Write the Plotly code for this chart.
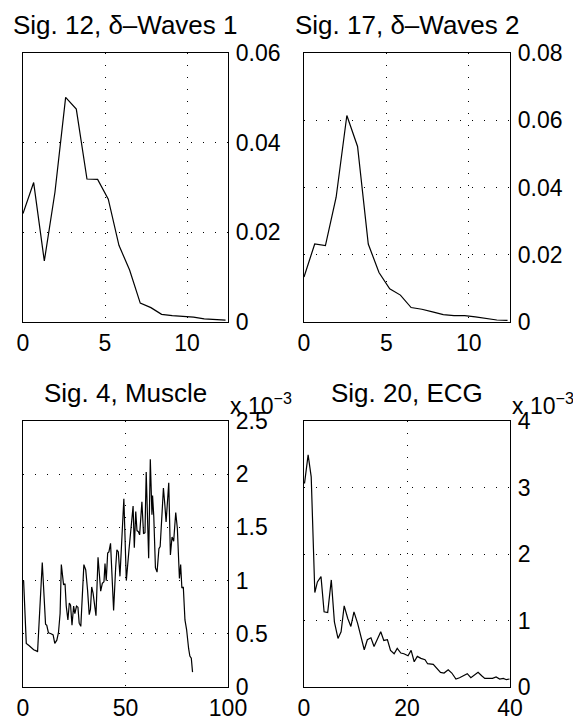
import plotly.graph_objects as go

W, H = 573, 719

# ---------- data ----------
# Sig. 12, delta-waves 1
f1 = [0.0, 0.65, 1.3, 1.95, 2.6, 3.25, 3.9, 4.55, 5.2, 5.85, 6.5, 7.15, 7.8,
      8.45, 9.1, 9.75, 10.4, 11.05, 11.7, 12.35]
p1 = [0.0242, 0.0311, 0.0136, 0.0290, 0.0501, 0.0475, 0.0319, 0.0318, 0.0274,
      0.0171, 0.0116, 0.0042, 0.0032, 0.0017, 0.0014, 0.0013, 0.0011, 0.0007,
      0.0005, 0.0004]

# Sig. 17, delta-waves 2
f2 = [0.0, 0.65, 1.3, 1.95, 2.6, 3.25, 3.9, 4.55, 5.2, 5.85, 6.5, 7.15, 7.8,
      8.45, 9.1, 9.75, 10.4, 11.05, 11.7, 12.35]
p2 = [0.0134, 0.0232, 0.0227, 0.0371, 0.0614, 0.0522, 0.0232, 0.0147, 0.0099,
      0.0080, 0.0043, 0.0038, 0.0030, 0.0022, 0.0019, 0.0019, 0.0015, 0.0010,
      0.0006, 0.0005]

# Sig. 4, muscle (values in units of 1e-3)
f3 = [0.3, 1.6, 2.9, 4.0, 5.2, 6.5, 7.1, 9.4, 11.0, 11.6, 12.4, 13.7, 14.7,
      15.5, 16.5, 17.3, 18.1, 18.7, 19.8, 20.5, 21.1, 21.9, 22.6, 23.2, 23.9,
      24.7, 25.3, 26.1, 26.8, 27.4, 28.2, 29.7, 30.6, 31.5, 32.3, 32.9, 33.5,
      34.2, 34.8, 35.6, 36.6, 37.9, 38.7, 39.5, 40.0, 40.6, 41.3, 41.9, 42.7,
      44.2, 45.2, 45.8, 46.5, 47.3, 49.2, 50.4, 51.7, 52.7, 53.7, 54.3, 55.0,
      55.6, 56.3, 56.9, 58.0, 58.8, 59.5, 60.1, 61.3, 62.1, 62.9, 63.2, 63.8,
      64.6, 65.4, 66.3, 66.9, 67.9, 68.5, 69.2, 69.8, 71.1, 71.9, 72.7, 73.5,
      74.5, 75.3, 76.3, 76.9, 77.5, 78.2, 79.0, 79.8, 80.8, 81.4, 82.1, 82.7]
p3 = [1.00, 0.41, 0.39, 0.37, 0.35, 0.34, 0.33, 1.17, 0.59, 0.58, 0.51, 0.50,
      0.49, 0.41, 0.44, 0.51, 0.69, 1.15, 0.96, 0.97, 0.76, 0.63, 0.79, 0.77,
      0.58, 0.76, 0.69, 0.76, 0.75, 0.60, 0.57, 1.15, 1.10, 0.91, 0.68, 0.73,
      0.94, 0.88, 0.79, 0.67, 1.22, 0.90, 0.975, 0.99, 1.16, 1.00, 1.26, 1.27,
      1.35, 0.72, 1.12, 1.29, 1.27, 1.04, 1.77, 1.00, 1.29, 1.51, 1.70, 1.31,
      1.65, 1.47, 1.46, 1.43, 1.74, 1.44, 1.45, 2.02, 1.21, 2.14, 1.62, 1.80,
      1.60, 1.12, 1.08, 1.30, 1.32, 1.66, 1.87, 1.71, 1.55, 1.92, 1.24, 1.41,
      1.37, 1.64, 1.49, 1.02, 1.15, 0.93, 0.94, 0.63, 0.54, 0.36, 0.29, 0.27,
      0.14]

# Sig. 20, ECG (values in units of 1e-3)
f4 = [0.1, 0.8, 1.4, 2.1, 2.6, 3.3, 3.9, 4.6, 5.3, 5.9, 6.6, 7.2, 7.8, 8.5,
      9.1, 9.7, 10.4, 11.0, 11.7, 12.3, 13.0, 13.6, 14.3, 14.9, 15.5, 16.2,
      16.8, 17.5, 18.1, 18.8, 19.4, 20.2, 20.8, 21.4, 22.0, 22.7, 23.5, 24.0,
      25.1, 25.8, 26.5, 27.2, 28.0, 28.7, 29.5, 30.2, 30.9, 31.7, 32.4, 33.0,
      33.8, 34.5, 35.1, 35.9, 36.6, 37.3, 38.0, 38.7, 39.3, 39.9]
p4 = [3.06, 3.49, 3.16, 1.42, 1.58, 1.66, 1.13, 1.12, 1.61, 0.98, 0.73, 0.83,
      1.22, 1.03, 0.91, 1.13, 0.96, 0.76, 0.56, 0.71, 0.74, 0.61, 0.72, 0.83,
      0.70, 0.71, 0.55, 0.50, 0.58, 0.51, 0.50, 0.47, 0.55, 0.38, 0.46, 0.43,
      0.41, 0.35, 0.34, 0.28, 0.22, 0.21, 0.26, 0.21, 0.12, 0.14, 0.17, 0.20,
      0.14, 0.18, 0.22, 0.17, 0.13, 0.13, 0.13, 0.15, 0.12, 0.13, 0.11, 0.12]

titles = ["Sig. 12, \u03b4\u2013Waves 1", "Sig. 17, \u03b4\u2013Waves 2",
          "Sig. 4, Muscle", "Sig. 20, ECG"]
x_ticks = [[0, 5, 10], [0, 5, 10], [0, 50, 100], [0, 20, 40]]
x_ranges = [[0, 12.5], [0, 12.5], [0, 100], [0, 40]]
y_ticks = [[0, 0.02, 0.04, 0.06], [0, 0.02, 0.04, 0.06, 0.08],
           [0, 0.5, 1, 1.5, 2, 2.5], [0, 1, 2, 3, 4]]
y_ticklabels = [["0", "0.02", "0.04", "0.06"], ["0", "0.02", "0.04", "0.06", "0.08"],
                ["0", "0.5", "1", "1.5", "2", "2.5"], ["0", "1", "2", "3", "4"]]
y_ranges = [[0, 0.06], [0, 0.08], [0, 2.5], [0, 4]]
exponent_label = "x 10<sup>\u22123</sup>"

# ---------- layout (pixel boxes) ----------
boxes = [(23, 228, 53, 322), (304, 510, 53, 322),
         (23, 228, 421, 687), (304, 510, 421, 687)]
FONT = "Liberation Sans, Arial, Helvetica, sans-serif"
FS = 23
FS_TITLE = 26

def px(x):
    return x / W

def py(y):
    return 1 - y / H

fig = go.Figure()
series = [(f1, p1), (f2, p2), (f3, p3), (f4, p4)]
annotations = []
for i, ((xs, ys), (l, r, t, b)) in enumerate(zip(series, boxes)):
    n = i + 1
    xa = "x" if n == 1 else f"x{n}"
    ya = "y" if n == 1 else f"y{n}"
    fig.add_trace(go.Scatter(x=xs, y=ys, mode="lines", xaxis=xa, yaxis=ya,
                             line=dict(color="black", width=1.2),
                             showlegend=False, hoverinfo="skip"))
    common = dict(showline=True, linecolor="black", linewidth=1.3, mirror=True,
                  showgrid=True, gridcolor="black", gridwidth=1,
                  griddash="1px,11px", zeroline=False, ticks="",
                  automargin=False,
                  tickfont=dict(family=FONT, size=FS, color="black"))
    fig.layout[f"xaxis{'' if n == 1 else n}"] = dict(
        domain=[px(l), px(r)], range=x_ranges[i], tickvals=x_ticks[i],
        ticktext=[str(v) for v in x_ticks[i]], anchor=ya,
        ticklabelstandoff=0, **common)
    fig.layout[f"yaxis{'' if n == 1 else n}"] = dict(
        domain=[py(b), py(t)], range=y_ranges[i], tickvals=y_ticks[i],
        ticktext=y_ticklabels[i], anchor=xa, side="right",
        ticklabelstandoff=2, **common)
    title_y = 25 if i < 2 else 393
    annotations.append(dict(text=titles[i], x=px((l + r) / 2), y=py(title_y),
                            xref="paper", yref="paper", xanchor="center",
                            yanchor="middle", showarrow=False,
                            font=dict(family=FONT, size=FS_TITLE, color="black")))
    if i >= 2:
        annotations.append(dict(text=exponent_label, x=px(r), y=py(404),
                                xref="paper", yref="paper", xanchor="left",
                                yanchor="middle", showarrow=False,
                                font=dict(family=FONT, size=FS, color="black")))

fig.update_layout(width=W, height=H, margin=dict(l=0, r=0, t=0, b=0),
                  paper_bgcolor="white", plot_bgcolor="white",
                  annotations=annotations)

fig.write_html("out.html", config={"displayModeBar": False},
               post_script="document.body.style.margin='0px';"
                           "document.body.style.overflow='hidden';")
